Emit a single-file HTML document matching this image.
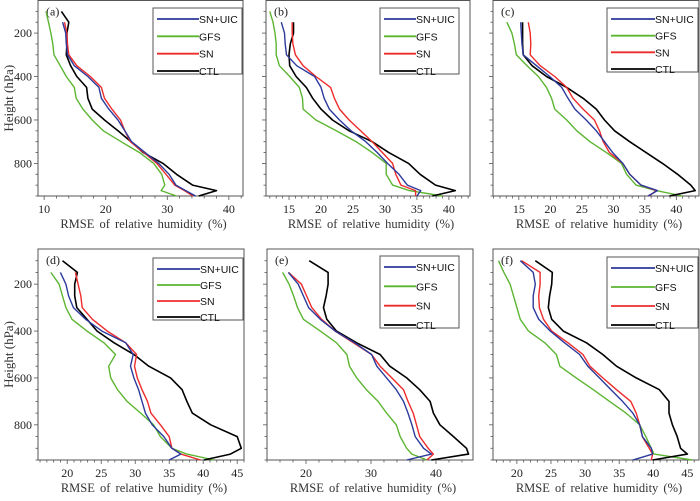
<!DOCTYPE html>
<html><head><meta charset="utf-8"><style>
body{margin:0;background:#fff;width:700px;height:496px;overflow:hidden}
svg text{font-family:"Liberation Serif",serif;}
</style></head><body>
<svg id="chart" width="700" height="496" viewBox="0 0 700 496" xmlns="http://www.w3.org/2000/svg"></svg>
<script>
const levels=[100,150,200,250,300,350,400,450,500,550,600,650,700,750,800,850,900,925,950];
const seriesNames=["SN+UIC","GFS","SN","CTL"];
const seriesColors=["#2b3a9c","#5cb531","#ee2b2b","#000000"];
const panelLabels=["(a)","(b)","(c)","(d)","(e)","(f)"];
// panel a
const aUIC=[null,13.0,13.5,13.6,13.8,14.9,17.1,18.9,19.3,20.5,22,23.1,24.2,26.4,28.6,30.3,31.4,33,34.6];
const aGFS=[10.3,10.7,11.1,11.4,11.6,12.6,13.6,14.9,15.2,16.3,17.8,19.6,22.5,25.5,27.8,29.1,29.6,29.0,31.5];
const aSN=[null,13.3,13.7,13.8,14.0,15.3,17.5,19.3,19.8,21,22.4,23.1,24,26.2,28.3,29.8,31.2,32.8,34.2];
const aCTL=[12.8,14.0,13.7,13.7,13.6,14.3,15.3,16.9,17.1,17.8,19.8,22,24.1,26.1,29.3,31.5,34.1,38,35.1];
// panel b
const bUIC=[null,13.8,14.3,14.4,14.6,16.2,19,20,20.5,21.3,22.9,24.7,27,28.8,30.4,32.2,33.5,35.6,35.0];
const bGFS=[12.0,12.5,12.8,13.0,13.0,13.5,15.1,16.6,17.1,17.2,19.2,22.4,25.5,28,30.2,30.2,31.2,33.8,39];
const bSN=[null,15.5,15.5,15.6,16.0,17.2,19.2,21.5,22.1,22.9,24.4,26.2,28,29.6,31.2,31.7,32.5,34.8,34.8];
const bCTL=[null,15.7,15.7,15.2,15.0,15.1,16.1,17.7,18.7,20,21.8,24.4,28,30.6,33.7,35.5,37.9,41,37.4];
// panel c
const cUIC=[null,15.3,15.4,15.5,15.7,17.8,19.9,21.8,22.8,23.9,25.7,27.3,28.6,29.9,31.5,32.6,34.4,37,35.5];
const cGFS=[null,13.1,13.9,14.3,14.6,16.3,18.1,19.4,20.2,20.7,22.6,24.2,26.3,28.9,31.3,32.1,33.6,36.8,41];
const cSN=[null,16.5,16.8,16.9,16.8,18.4,20.7,22.6,23.6,25.2,27,27.8,28.4,29.4,31.5,32.6,34.4,36.8,35.7];
const cCTL=[null,15.6,15.6,15.6,15.7,17.1,19.4,22.6,25.2,27.3,28.6,30.2,32.6,35.2,37.8,40.2,42.3,43,38.9];
// panel d
const dUIC=[null,19.0,19.8,20.2,20.9,22.7,25.1,28.6,29.7,29.3,29.8,30.5,31,31.5,32.5,34.2,35.4,36.7,35];
const dGFS=[null,17.6,18.8,19.3,19.8,20.7,22.9,25.4,27.1,26.1,26.4,27.4,28.8,30.8,32.7,33.7,35.4,37.6,41.6];
const dSN=[null,21.2,21.6,22,22.2,23.7,25.9,28.6,30.2,29.9,30.3,31,31.8,32.3,33.7,35,35.4,36.7,39.6];
const dCTL=[19.3,21.5,21.1,21.1,21.4,22.9,24.4,26.9,29.8,32,35.2,36.9,37.6,38.4,41.1,45,45.6,44,40.1];
// panel e
const eUIC=[null,17.3,18.8,19.6,20.4,22.2,24.5,27.5,30.1,30.9,32.4,33.9,35,35.7,36.3,36.8,38.1,39.3,35.5];
const eGFS=[null,16.4,17.4,18.1,18.7,19.6,22.2,24.7,26.3,26.7,27.8,29.3,31.1,32.4,33.9,34.5,35.5,36.3,38.6];
const eSN=[null,17.3,19.3,20.1,20.9,22.4,24.5,27.3,30.1,31.4,33.2,35,35.7,36.5,37,37.5,38.8,39.6,38.6];
const eCTL=[20.5,23.4,23.4,23.1,22.7,23.2,24.7,27.8,31.4,32.9,35.5,37.5,39.1,39.6,40.6,42.7,44.7,45,39.3];
// panel f
const fUIC=[20.5,22.4,22.7,22.4,22.4,23.2,24.9,27,29.2,30.4,32.1,33.8,35.5,37,38,38.4,39.7,39.9,37];
const fGFS=[17.3,18.1,19,19.5,20,20.5,21.7,24.1,25.8,26.3,28.7,31.2,33.6,36,38,38.9,39.7,40.1,45.7];
const fSN=[20.7,23.4,23.4,23.2,23.3,23.9,25.1,27.5,29.7,30.7,32.6,34.6,36.7,37.5,38,38.4,39.4,39.9,39.7];
const fCTL=[22.7,25.2,25.1,24.8,24.6,25.1,26.8,30.2,32.6,34.6,37.5,40.9,42.3,42.3,42.8,43.5,44,45,39.9];
const xTicksA=[10,20,30,40],xTicksB=[15,20,25,30,35,40],xTicksC=[15,20,25,30,35,40],xTicksD=[20,25,30,35,40,45],xTicksE=[20,30,40],xTicksF=[20,25,30,35,40,45];
const yTicks=[200,400,600,800];

const panels=[
 {d:[aUIC,aGFS,aSN,aCTL],xd:[9,42.3],px:[38,243],py:[0.5,196],xt:xTicksA,mn:2,leg:[153,8,89,66],yl:true},
 {d:[bUIC,bGFS,bSN,bCTL],xd:[11.4,43.3],px:[266,470],py:[0.5,196],xt:xTicksB,mn:1,leg:[380,8,79,66],yl:false},
 {d:[cUIC,cGFS,cSN,cCTL],xd:[10.9,43.6],px:[493,699],py:[0.5,196],xt:xTicksC,mn:1,leg:[607,8,91,64],yl:false},
 {d:[dUIC,dGFS,dSN,dCTL],xd:[15.7,46],px:[38,244],py:[249,460],xt:xTicksD,mn:1,leg:[153,258,90,62],yl:true},
 {d:[eUIC,eGFS,eSN,eCTL],xd:[14,45.7],px:[267,473],py:[249,460],xt:xTicksE,mn:2,leg:[380,256,79,72],yl:false},
 {d:[fUIC,fGFS,fSN,fCTL],xd:[16.5,46.7],px:[493,699],py:[249,460],xt:xTicksF,mn:1,leg:[607,257,91,71],yl:false}
];
const svg=document.getElementById('chart');
const NS='http://www.w3.org/2000/svg';
function mk(tag,attrs,parent){const e=document.createElementNS(NS,tag);for(const k in attrs)e.setAttribute(k,attrs[k]);(parent||svg).appendChild(e);return e;}
panels.forEach((P,pi)=>{
 const g=mk('g',{});
 
 
 const X=v=>P.px[0]+(v-P.xd[0])/(P.xd[1]-P.xd[0])*(P.px[1]-P.px[0]);
 const Y=p=>P.py[0]+(p-50)/900*(P.py[1]-P.py[0]);
 const box=mk('rect',{x:P.px[0],y:P.py[0],width:P.px[1]-P.px[0],height:P.py[1]-P.py[0],fill:'none',stroke:'#555','stroke-width':1},g);
 
 
 for(let p=100;p<=950;p+=50){const maj=p%200===0;mk('line',{x1:P.px[0],x2:P.px[0]-(maj?4:2.5),y1:Y(p),y2:Y(p),stroke:'#555','stroke-width':0.8},g);}
 if(P.yl) yTicks.forEach(t=>{const tx=mk('text',{x:P.px[0]-6,y:Y(t)+4,'font-size':12,'text-anchor':'end',fill:'#222'},g);tx.textContent=t;
  
  });
 for(let v=Math.ceil(P.xd[0]/P.mn)*P.mn;v<=P.xd[1];v+=P.mn){const maj=v%5===0&&P.xt.includes(v);mk('line',{x1:X(v),x2:X(v),y1:P.py[1],y2:P.py[1]+(maj?4:2.5),stroke:'#555','stroke-width':0.8},g);}
 P.xt.forEach(t=>{const tx=mk('text',{x:X(t),y:P.py[1]+17,'font-size':12,'text-anchor':'middle',fill:'#222'},g);tx.textContent=t;
  
  });
 const xt=mk('text',{x:(P.px[0]+P.px[1])/2+3,y:P.py[1]+32,'font-size':12.5,'text-anchor':'middle',fill:'#333','word-spacing':'2'},g);
 xt.textContent='RMSE of relative humidity (%)';
 
 
 if(P.yl){const yt=mk('text',{x:0,y:0,'font-size':13,'text-anchor':'middle',fill:'#333',transform:`translate(13,${(P.py[0]+P.py[1])/2}) rotate(-90)`},g);
  yt.textContent='Height (hPa)';
  
  }
 const lb=mk('text',{x:P.px[0]+8,y:P.py[0]+15,'font-size':12,fill:'#222'},g);lb.textContent=panelLabels[pi];
 
 
 [1,3,2,0].forEach(si=>{
  const vals=P.d[si];let pts=[];
  vals.forEach((v,i)=>{if(v!==null)pts.push(X(v).toFixed(1)+','+Y(levels[i]).toFixed(1));});
  const pl=mk('polyline',{points:pts.join(' '),fill:'none',stroke:seriesColors[si],'stroke-width':si===3?1.6:1.4,'stroke-linejoin':'round'},g);
  
  
 });
 const [lx,ly,lw,lh]=P.leg;
 const lg=mk('g',{},g);
 
 
 mk('rect',{x:lx,y:ly,width:lw,height:lh,fill:'#fff',stroke:'#555','stroke-width':1},lg);
 seriesNames.forEach((n,i)=>{
  const yy=ly+11+i*(lh-14)/3;
  const ln=mk('line',{x1:lx+4,x2:lx+lw-43,y1:yy,y2:yy,stroke:seriesColors[i],'stroke-width':1.8},lg);
  
  
  const t=mk('text',{x:lx+lw-43,y:yy+4,'font-size':10.5,fill:'#111'},lg);
  t.setAttribute('style','font-family:"Liberation Sans",sans-serif');
  t.textContent=n;
  
  
 });
});
</script>
</body></html>
